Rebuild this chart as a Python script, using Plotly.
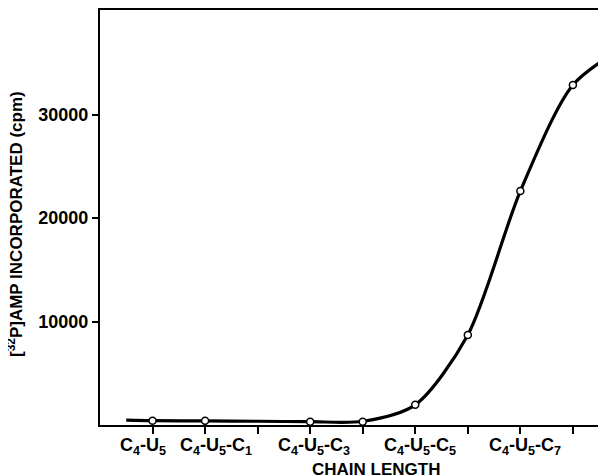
import plotly.graph_objects as go

# Data
chain_index = [0, 1, 3, 4, 5, 6, 7, 8]
amp_cpm = [420, 400, 320, 320, 1950, 8700, 22600, 32850]

# smooth drawn curve (passes through points, extends slightly beyond them)
curve_x = [-0.5, 0, 1, 2, 3, 4, 5, 6, 7, 8, 9.0]
curve_y = [470, 420, 400, 360, 320, 360, 1950, 8700, 22600, 32850, 36600]

tick_vals = [0, 1, 2, 3, 4, 5, 6, 7, 8]
label_pos = [0, 1, 3, 5, 7]
label_text = ["C<sub>4</sub>-U<sub>5</sub>", "C<sub>4</sub>-U<sub>5</sub>-C<sub>1</sub>",
              "C<sub>4</sub>-U<sub>5</sub>-C<sub>3</sub>",
              "C<sub>4</sub>-U<sub>5</sub>-C<sub>5</sub>",
              "C<sub>4</sub>-U<sub>5</sub>-C<sub>7</sub>"]
label_shift = [-10, 11, 4, 5, 5]  # hand-lettered offsets (px)
y_ticks = [10000, 20000, 30000]

FONT = "Liberation Sans, Arial, sans-serif"

fig = go.Figure()
fig.add_trace(go.Scatter(x=curve_x, y=curve_y, mode="lines",
                         line=dict(color="black", width=3.2, shape="spline", smoothing=0.8),
                         hoverinfo="skip", showlegend=False))
fig.add_trace(go.Scatter(x=chain_index, y=amp_cpm, mode="markers",
                         marker=dict(symbol="circle", size=7, color="white",
                                     line=dict(color="black", width=1.5)),
                         showlegend=False))

annotations = [
    dict(text=t, xref="x", yref="paper", x=p, y=0, xanchor="center", yanchor="top",
         xshift=s, yshift=-8, showarrow=False,
         font=dict(family=FONT, size=18, color="black", weight="bold"))
    for p, t, s in zip(label_pos, label_text, label_shift)
]
annotations += [
    dict(text="CHAIN LENGTH", xref="paper", yref="paper",
         x=(376 - 100) / 506, y=0, yanchor="top", xanchor="center", yshift=-33,
         showarrow=False, font=dict(family=FONT, size=17, color="black", weight="bold")),
    dict(text="[<sup>32</sup>P]AMP INCORPORATED (cpm)", xref="paper", yref="paper",
         x=-85 / 506, y=(425 - 224) / 415, textangle=-90, xanchor="center", yanchor="middle",
         showarrow=False, font=dict(family=FONT, size=17, color="black", weight="bold")),
]

fig.update_layout(
    width=598, height=468,
    margin=dict(l=92, r=0, t=2, b=51, autoexpand=False),
    paper_bgcolor="white", plot_bgcolor="white",
    font=dict(family=FONT, size=17, color="black"),
    xaxis=dict(range=[-1.0, 8.63], tickvals=tick_vals, showticklabels=False,
               automargin=False,
               showgrid=False, zeroline=False, showline=True, linecolor="black", linewidth=2,
               mirror=True, ticks="outside", ticklen=7, tickwidth=2, tickcolor="black"),
    yaxis=dict(range=[0, 40100], tickvals=y_ticks, ticktext=[str(v) for v in y_ticks],
               automargin=False,
               showgrid=False, zeroline=False, showline=True, linecolor="black", linewidth=2,
               ticks="outside", ticklen=6, tickwidth=2, tickcolor="black",
               tickfont=dict(family=FONT, size=18, color="black", weight="bold")),
    annotations=annotations,
)

fig.write_html("out.html")
